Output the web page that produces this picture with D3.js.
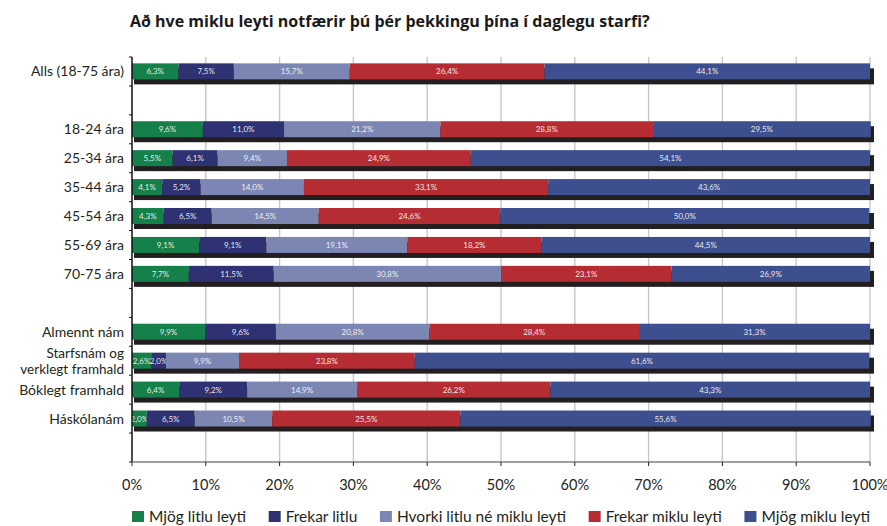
<!DOCTYPE html>
<html>
<head>
<meta charset="utf-8">
<script src="https://cdn.jsdelivr.net/npm/d3@7"></script>
<style>
  body { margin: 0; background: #fff; }
  svg { display: block; font-family: Lato, "Open Sans", sans-serif; }
</style>
</head>
<body>
<div id="chart"></div>
<script>
const title = "Að hve miklu leyti notfærir þú þér þekkingu þína í daglegu starfi?";

const categories = [
    "Alls (18-75 ára)",
    "18-24 ára", "25-34 ára", "35-44 ára", "45-54 ára", "55-69 ára", "70-75 ára",
    "Almennt nám", "Starfsnám og\nverklegt framhald", "Bóklegt framhald", "Háskólanám"
];
// row order with empty slots between the groups
const slots = ["Alls (18-75 ára)", "gap1",
    "18-24 ára", "25-34 ára", "35-44 ára", "45-54 ára", "55-69 ára", "70-75 ára", "gap2",
    "Almennt nám", "Starfsnám og\nverklegt framhald", "Bóklegt framhald", "Háskólanám", "gap3"];

const seriesNames = ["Mjög litlu leyti", "Frekar litlu", "Hvorki litlu né miklu leyti", "Frekar miklu leyti", "Mjög miklu leyti"];
const seriesColors = ["#15804a", "#2e3172", "#7c86b2", "#b52d32", "#3d4f8f"];

const mjogLitlu   = [6.3, 9.6, 5.5, 4.1, 4.3, 9.1, 7.7, 9.9, 2.6, 6.4, 2.0];
const frekarLitlu = [7.5, 11.0, 6.1, 5.2, 6.5, 9.1, 11.5, 9.6, 2.0, 9.2, 6.5];
const hvorki      = [15.7, 21.2, 9.4, 14.0, 14.5, 19.1, 30.8, 20.8, 9.9, 14.9, 10.5];
const frekarMiklu = [26.4, 28.8, 24.9, 33.1, 24.6, 18.2, 23.1, 28.4, 23.8, 26.2, 25.5];
const mjogMiklu   = [44.1, 29.5, 54.1, 43.6, 50.0, 44.5, 26.9, 31.3, 61.6, 43.3, 55.6];

const xTicks = [0, 10, 20, 30, 40, 50, 60, 70, 80, 90, 100];

const width = 887, height = 526;
const margin = { top: 57, right: 17, bottom: 64, left: 132 };

const allSeries = [mjogLitlu, frekarLitlu, hvorki, frekarMiklu, mjogMiklu];
const rows = categories.map((c, i) => {
    const r = { cat: c };
    seriesNames.forEach((s, j) => r[s] = allSeries[j][i]);
    return r;
});

const stacked = d3.stack().keys(seriesNames)(rows);

const svg = d3.select("#chart").append("svg")
    .attr("width", width)
    .attr("height", height);

const x = d3.scaleLinear().domain([0, 100]).range([margin.left, width - margin.right]);
const y = d3.scaleBand().domain(slots).range([margin.top, height - margin.bottom]).paddingInner(0.44).paddingOuter(0.22);

const fmt = v => d3.format(".1f")(v).replace(".", ",") + "%";

// title
svg.append("text")
    .attr("x", margin.left - 2)
    .attr("y", 27)
    .attr("font-family", "'Open Sans', Lato, sans-serif")
    .attr("font-size", "16px")
    .attr("font-weight", "bold")
    .attr("fill", "#1a1a1a")
    .text(title);

// gridlines
svg.append("g")
    .selectAll("line")
    .data(xTicks.slice(1))
    .enter()
    .append("line")
    .attr("x1", d => x(d)).attr("x2", d => x(d))
    .attr("y1", margin.top).attr("y2", height - margin.bottom)
    .attr("stroke", "#c8c8c8")
    .attr("stroke-width", 1.4);

// shadows behind each bar
const barH = 16;
svg.append("g")
    .selectAll("rect")
    .data(rows)
    .enter()
    .append("rect")
    .attr("x", x(0) + 2)
    .attr("y", d => y(d.cat) + 5)
    .attr("width", x(100) - x(0) + 2)
    .attr("height", barH)
    .attr("fill", "#231f20");

// bars
const layers = svg.append("g")
    .selectAll("g")
    .data(stacked)
    .enter()
    .append("g")
    .attr("fill", (d, i) => seriesColors[i]);

layers.selectAll("rect")
    .data(d => d)
    .enter()
    .append("rect")
    .attr("x", d => x(d[0]))
    .attr("y", d => y(d.data.cat))
    .attr("width", d => x(d[1]) - x(d[0]))
    .attr("height", barH);

layers.selectAll("text")
    .data(d => d)
    .enter()
    .append("text")
    .attr("x", d => (x(d[0]) + x(d[1])) / 2)
    .attr("y", d => y(d.data.cat) + barH / 2 + 3)
    .attr("text-anchor", "middle")
    .attr("font-size", "8px")
    .attr("fill", "#fff")
    .attr("fill-opacity", 0.9)
    .text(d => fmt(d[1] - d[0]));

// left axis
const boundaries = d3.range(slots.length + 1).map(i => margin.top + i * y.step());
svg.append("line")
    .attr("x1", x(0)).attr("x2", x(0))
    .attr("y1", margin.top).attr("y2", height - margin.bottom)
    .attr("stroke", "#111").attr("stroke-width", 1.5);
svg.append("g")
    .selectAll("line")
    .data(boundaries)
    .enter()
    .append("line")
    .attr("x1", x(0) - 3).attr("x2", x(0))
    .attr("y1", d => d).attr("y2", d => d)
    .attr("stroke", "#111").attr("stroke-width", 1);

// category labels (the two-line one is set a bit smaller, like the original)
const labels = svg.append("g")
    .selectAll("text")
    .data(categories)
    .enter()
    .append("text")
    .attr("text-anchor", "end")
    .attr("font-size", c => c.includes("\n") ? "13.5px" : "14px")
    .attr("fill", "#231f20");
labels.each(function(c) {
    const lines = c.split("\n");
    const cy = y(c) + barH / 2;
    lines.forEach((ln, i) => {
        d3.select(this).append("tspan")
            .attr("x", x(0) - 8)
            .attr("y", cy + 5 + (i - (lines.length - 1) / 2) * 16)
            .text(ln);
    });
});

// bottom axis
const axisY = height - margin.bottom;
svg.append("line")
    .attr("x1", x(0)).attr("x2", x(100))
    .attr("y1", axisY).attr("y2", axisY)
    .attr("stroke", "#808080").attr("stroke-width", 1.6);
svg.append("g")
    .selectAll("line")
    .data(xTicks)
    .enter()
    .append("line")
    .attr("x1", d => x(d)).attr("x2", d => x(d))
    .attr("y1", axisY).attr("y2", axisY + 4)
    .attr("stroke", "#222").attr("stroke-width", 1);
svg.append("g")
    .selectAll("text")
    .data(xTicks)
    .enter()
    .append("text")
    .attr("x", d => x(d))
    .attr("y", axisY + 28)
    .attr("text-anchor", "middle")
    .attr("font-size", "14.5px")
    .attr("fill", "#231f20")
    .text(d => d + "%");

// legend, spread across the plot width
const legend = svg.append("g").attr("transform", `translate(${x(0)},${height - 4})`);
const items = seriesNames.map((s, i) => {
    const g = legend.append("g");
    g.append("rect")
        .attr("x", 0).attr("y", -11)
        .attr("width", 12).attr("height", 11)
        .attr("fill", seriesColors[i]);
    const t = g.append("text")
        .attr("x", 17).attr("y", 0)
        .attr("font-size", "15.5px")
        .attr("fill", "#231f20")
        .text(s);
    return { g, w: 17 + t.node().getComputedTextLength() };
});
const gap = (x(100) - x(0) - d3.sum(items, d => d.w)) / (items.length - 1);
let lx = 0;
items.forEach(it => {
    it.g.attr("transform", `translate(${lx},0)`);
    lx += it.w + gap;
});
</script>
</body>
</html>
